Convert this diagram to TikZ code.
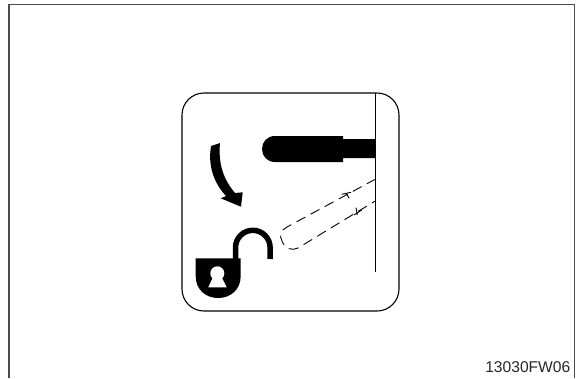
\documentclass[tikz,border=0pt]{standalone}
\usepackage{fontspec}
\setmainfont{Liberation Sans}
\tikzset{
  frameline/.style={draw=black!70, line width=1.3pt},
  signline/.style={draw=black, line width=1.1pt},
  ghostline/.style={draw=black, line width=0.9pt, dash pattern=on 10pt off 6pt},
  solidblack/.style={fill=black, draw=none},
}
\begin{document}
\begin{tikzpicture}[x=1pt, y=-1pt]
\useasboundingbox (0,0) rectangle (576,378);
% outer frame, open at the bottom
\draw[frameline] (9,378) -- (9,4.5) -- (574.7,4.5) -- (574.7,378);
\draw[signline, rounded corners=22pt] (182,93) rectangle (399,311);
\draw[signline] (375.7,93) -- (375.7,272);
% lever, locked position
\fill[solidblack] (375.7,139) -- (343,139) -- (343,136) -- (275,136)
  .. controls (267,136) and (262,142) .. (262,149)
  .. controls (262,156) and (267,162) .. (275,162)
  -- (343,162) -- (343,158) -- (375.7,158) -- cycle;
% lever, free position
\draw[ghostline] (375.7,179) -- (287,227) .. controls (281,230) and (279,236) .. (282,241)
  .. controls (285,249) and (292,251) .. (298,248) -- (375.7,200.7);
\draw[signline, line width=0.9pt] (341.7,194.3) -- (351,192.3) (346,193.3) -- (349.3,198.3)
  (356,207.7) -- (357.3,215) (354,215) -- (361.7,210);
% arrow
\fill[solidblack] (211,146) -- (220,143)
  .. controls (218,165) and (224,180) .. (235,193)
  -- (242.7,192.3) -- (241,206.7) -- (220.7,198.3) -- (226,196)
  .. controls (213,182) and (208,165) .. (211,146) -- cycle;
% padlock
\draw[line width=5.5pt] (235.5,259) -- (235.5,247.6) arc[start angle=180, end angle=360, radius=17.3] -- (270,259);
\fill[solidblack] (195.7,258.3) -- (240.7,258.3) -- (240.7,276)
  .. controls (240.7,290) and (230,298) .. (218.2,298)
  .. controls (206,298) and (195.7,290) .. (195.7,276) -- cycle;
\fill[white] (217.3,273.3) circle[radius=7pt];
\fill[white] (213.5,276) -- (221,276) -- (226.7,287.3) -- (208.3,287.3) -- cycle;
\node[anchor=base east, inner sep=0pt, font=\fontsize{15.6pt}{18pt}\selectfont, text=black!85] (code) at (570.5,372.5) {13030FW06};
\end{tikzpicture}
\end{document}
